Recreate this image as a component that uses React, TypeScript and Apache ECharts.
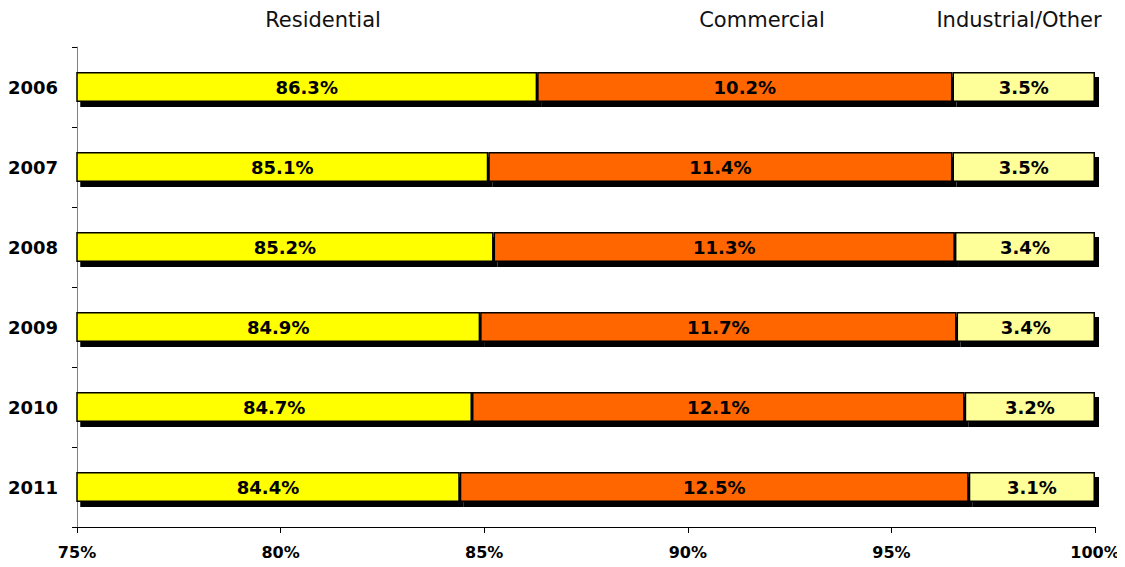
import React, { useEffect, useRef } from "react";
import * as echarts from "echarts";

const years = ["2006", "2007", "2008", "2009", "2010", "2011"];
const seriesNames = ["Residential", "Commercial", "Industrial/Other"];
const residential = [86.3, 85.1, 85.23, 84.9, 84.7, 84.4];
const commercial = [10.2, 11.4, 11.33, 11.7, 12.1, 12.5];
const industrial = [3.5, 3.5, 3.44, 3.4, 3.2, 3.1];
const colors = ["#FFFF00", "#FF6600", "#FFFF99"];
const headerX = [323, 762, 1019];

const FONT = "'DejaVu Sans', Verdana, sans-serif";

export default function App() {
  const ref = useRef<HTMLDivElement>(null);
  useEffect(() => {
    if (!ref.current) return;
    const chart = echarts.init(ref.current, null, { renderer: "svg" });
    const dataSets = [residential, commercial, industrial];
    chart.setOption({
      animation: false,
      grid: { left: 77, right: 30, top: 47, bottom: 40, containLabel: false },
      xAxis: {
        type: "value",
        min: 75,
        max: 100,
        interval: 5,
        axisLine: { show: true, lineStyle: { color: "#000", width: 1 } },
        axisTick: { show: true, length: 6, lineStyle: { color: "#000" } },
        splitLine: { show: false },
        axisLabel: {
          formatter: "{value}%",
          fontFamily: FONT,
          fontWeight: "bold",
          fontSize: 16,
          color: "#000",
          margin: 17,
        },
      },
      yAxis: {
        type: "category",
        data: years,
        inverse: true,
        axisLine: { show: true, lineStyle: { color: "#808080", width: 1 } },
        axisTick: { show: true, length: 5, lineStyle: { color: "#000" } },
        axisLabel: {
          fontFamily: FONT,
          fontWeight: "bold",
          fontSize: 18,
          color: "#000",
          margin: 19,
        },
      },
      graphic: seriesNames.map((name, i) => ({
        type: "text",
        x: headerX[i],
        y: 20,
        style: {
          text: name,
          fontFamily: FONT,
          fontWeight: "normal",
          fontSize: 21,
          fill: "#111",
          textAlign: "center",
          textVerticalAlign: "middle",
        },
      })),
      series: seriesNames.map((name, i) => ({
        name,
        type: "bar",
        stack: "total",
        barWidth: 30,
        data: dataSets[i],
        itemStyle: {
          color: colors[i],
          borderColor: "#000",
          borderWidth: 1.5,
          shadowColor: "#000",
          shadowBlur: 0,
          shadowOffsetX: 4,
          shadowOffsetY: 5,
        },
        label: {
          show: true,
          position: "inside",
          formatter: (p: any) => p.value.toFixed(1) + "%",
          fontFamily: FONT,
          fontWeight: "bold",
          fontSize: 18,
          color: "#000",
        },
      })),
    });
    return () => chart.dispose();
  }, []);
  return <div ref={ref} style={{ width: 1125, height: 567, margin: -8 }} />;
}
